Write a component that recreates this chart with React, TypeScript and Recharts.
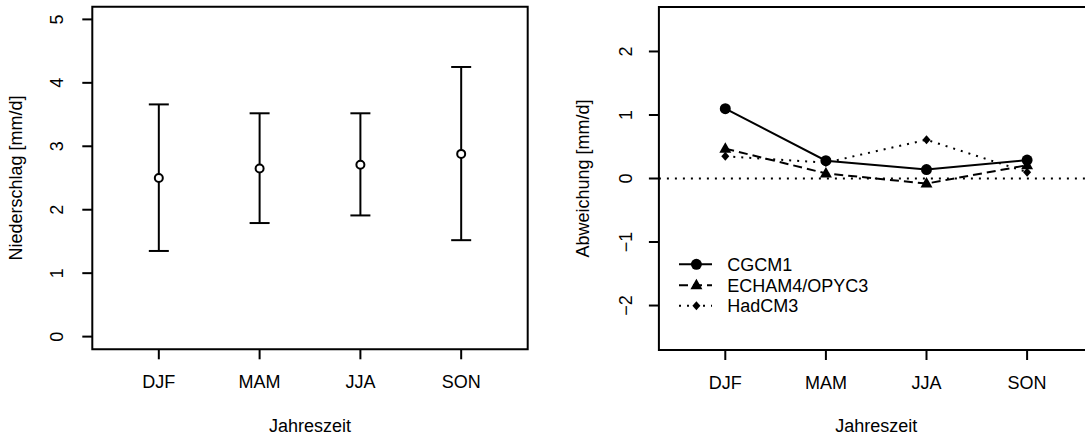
import React from 'react'
import {
    ComposedChart,
    Line,
    XAxis,
    YAxis,
    ErrorBar,
    ReferenceArea,
    ReferenceLine
} from 'recharts'

// seasons and values
const seasons = ['DJF', 'MAM', 'JJA', 'SON']
const meanPrecip = [2.5, 2.65, 2.71, 2.88]
const lowPrecip = [1.35, 1.79, 1.91, 1.52]
const highPrecip = [3.66, 3.52, 3.52, 4.25]

const cgcm1 = [1.1, 0.28, 0.14, 0.29]
const echam4 = [0.47, 0.08, -0.08, 0.21]
const hadcm3 = [0.35, 0.25, 0.61, 0.1]

const leftTicks = [0, 1, 2, 3, 4, 5]
const rightTicks = [-2, -1, 0, 1, 2]

const FONT = '"Liberation Sans", Arial, Helvetica, sans-serif'
const FS = 18

const leftData = seasons.map((s, i) => ({
    x: i + 1,
    mean: meanPrecip[i],
    err: [meanPrecip[i] - lowPrecip[i], highPrecip[i] - meanPrecip[i]]
}))

const rightData = seasons.map((s, i) => ({
    x: i + 1,
    cgcm1: cgcm1[i],
    echam4: echam4[i],
    hadcm3: hadcm3[i]
}))

const fmtSeason = (v: number) => seasons[v - 1] ?? ''
const fmtMinus = (v: number) => (v < 0 ? '\u2212' + Math.abs(v) : String(v))

const RotTick = (props: any) => {
    const { x, y, payload } = props
    return (
        <text x={x} y={y} transform={`rotate(-90, ${x}, ${y})`} textAnchor="middle"
            fontFamily={FONT} fontSize={FS} fill="#000">
            {fmtMinus(payload.value)}
        </text>
    )
}

const OpenCircle = (props: any) => {
    const { cx, cy } = props
    if (cx == null || cy == null) return null
    return <circle key={`o${cx}`} cx={cx} cy={cy} r={4} fill="#fff" stroke="#000" strokeWidth={2} />
}

const FilledCircle = (props: any) => {
    const { cx, cy } = props
    if (cx == null || cy == null) return null
    return <circle key={`c${cx}`} cx={cx} cy={cy} r={5.5} fill="#000" />
}

const Triangle = (props: any) => {
    const { cx, cy } = props
    if (cx == null || cy == null) return null
    return <path key={`t${cx}`} d={`M${cx},${cy - 6.5} L${cx - 6},${cy + 4} L${cx + 6},${cy + 4} Z`} fill="#000" />
}

const Diamond = (props: any) => {
    const { cx, cy } = props
    if (cx == null || cy == null) return null
    return <path key={`d${cx}`} d={`M${cx},${cy - 4.5} L${cx + 4},${cy} L${cx},${cy + 4.5} L${cx - 4},${cy} Z`} fill="#000" />
}

const legendRows = [
    { name: 'CGCM1', dash: undefined, shape: 'circle' },
    { name: 'ECHAM4/OPYC3', dash: '9 5', shape: 'triangle' },
    { name: 'HadCM3', dash: '2 6', shape: 'diamond' }
]

const textStyle = { fontFamily: FONT, fontSize: FS, fill: '#000' }

const App = () => {
    return (
        <div style={{ position: 'absolute', left: 0, top: 0, width: 1085, height: 436, overflow: 'hidden', background: '#fff' }}>
            <div style={{ position: 'absolute', left: 0, top: 0 }}>
                <ComposedChart width={545} height={436} data={leftData}
                    margin={{ top: 6.7, right: 17.3, left: 0, bottom: 26.7 }}>
                    <XAxis type="number" dataKey="x" domain={[0.34, 4.66]} ticks={[1, 2, 3, 4]}
                        tickFormatter={fmtSeason} axisLine={false} tickSize={10} tickMargin={16} height={60}
                        tickLine={{ stroke: '#000', strokeWidth: 2 }}
                        tick={{ fill: '#000', fontSize: FS, fontFamily: FONT }} />
                    <YAxis type="number" domain={[-0.2, 5.2]} ticks={leftTicks} width={92.3}
                        axisLine={false} tickSize={10} tickMargin={19}
                        tickLine={{ stroke: '#000', strokeWidth: 2 }} tick={<RotTick />} />
                    <ReferenceArea x1={0.34} x2={4.66} y1={-0.2} y2={5.2} fill="none" stroke="#000" strokeWidth={2} ifOverflow="visible" />
                    <Line dataKey="mean" stroke="none" isAnimationActive={false} dot={<OpenCircle />} activeDot={false}>
                        <ErrorBar dataKey="err" width={10} stroke="#000" strokeWidth={2} direction="y" />
                    </Line>
                    <text x={310} y={432} textAnchor="middle" {...textStyle}>Jahreszeit</text>
                    <text x={22} y={178} transform="rotate(-90, 22, 178)" textAnchor="middle" {...textStyle}>Niederschlag [mm/d]</text>
                </ComposedChart>
            </div>
            <div style={{ position: 'absolute', left: 545, top: 0 }}>
                <ComposedChart width={560} height={436} data={rightData}
                    margin={{ top: 7, right: 11.5, left: 0, bottom: 26 }}>
                    <XAxis type="number" dataKey="x" domain={[0.34, 4.66]} ticks={[1, 2, 3, 4]}
                        tickFormatter={fmtSeason} axisLine={false} tickSize={10} tickMargin={16} height={60}
                        tickLine={{ stroke: '#000', strokeWidth: 2 }}
                        tick={{ fill: '#000', fontSize: FS, fontFamily: FONT }} />
                    <YAxis type="number" domain={[-2.7, 2.7]} ticks={rightTicks} width={113.9}
                        axisLine={false} tickSize={10} tickMargin={17}
                        tickLine={{ stroke: '#000', strokeWidth: 2 }} tick={<RotTick />} />
                    <ReferenceArea x1={0.34} x2={4.66} y1={-2.7} y2={2.7} fill="none" stroke="#000" strokeWidth={2} ifOverflow="visible" />
                    <ReferenceLine y={0} stroke="#000" strokeWidth={2} strokeDasharray="2 6" />
                    <Line dataKey="hadcm3" stroke="#000" strokeWidth={2} strokeDasharray="2 6" isAnimationActive={false} dot={<Diamond />} activeDot={false} />
                    <Line dataKey="echam4" stroke="#000" strokeWidth={2} strokeDasharray="9 5" isAnimationActive={false} dot={<Triangle />} activeDot={false} />
                    <Line dataKey="cgcm1" stroke="#000" strokeWidth={2} isAnimationActive={false} dot={<FilledCircle />} activeDot={false} />
                    {legendRows.map((r, i) => {
                        const y = [264.3, 285.3, 305.7][i]
                        const cx = 151.4
                        return (
                            <g key={r.name}>
                                <line x1={134} x2={167} y1={y} y2={y} stroke="#000" strokeWidth={2} strokeDasharray={r.dash} />
                                {r.shape === 'circle' && <circle cx={cx} cy={y} r={5.5} fill="#000" />}
                                {r.shape === 'triangle' && <path d={`M${cx},${y - 6.5} L${cx - 6},${y + 4} L${cx + 6},${y + 4} Z`} fill="#000" />}
                                {r.shape === 'diamond' && <path d={`M${cx},${y - 4.5} L${cx + 4},${y} L${cx},${y + 4.5} L${cx - 4},${y} Z`} fill="#000" />}
                                <text x={182.3} y={y + 6.5} {...textStyle}>{r.name}</text>
                            </g>
                        )
                    })}
                    <text x={331.2} y={432} textAnchor="middle" {...textStyle}>Jahreszeit</text>
                    <text x={44} y={178.5} transform="rotate(-90, 44, 178.5)" textAnchor="middle" {...textStyle}>Abweichung [mm/d]</text>
                </ComposedChart>
            </div>
        </div>
    )
}

export default App
